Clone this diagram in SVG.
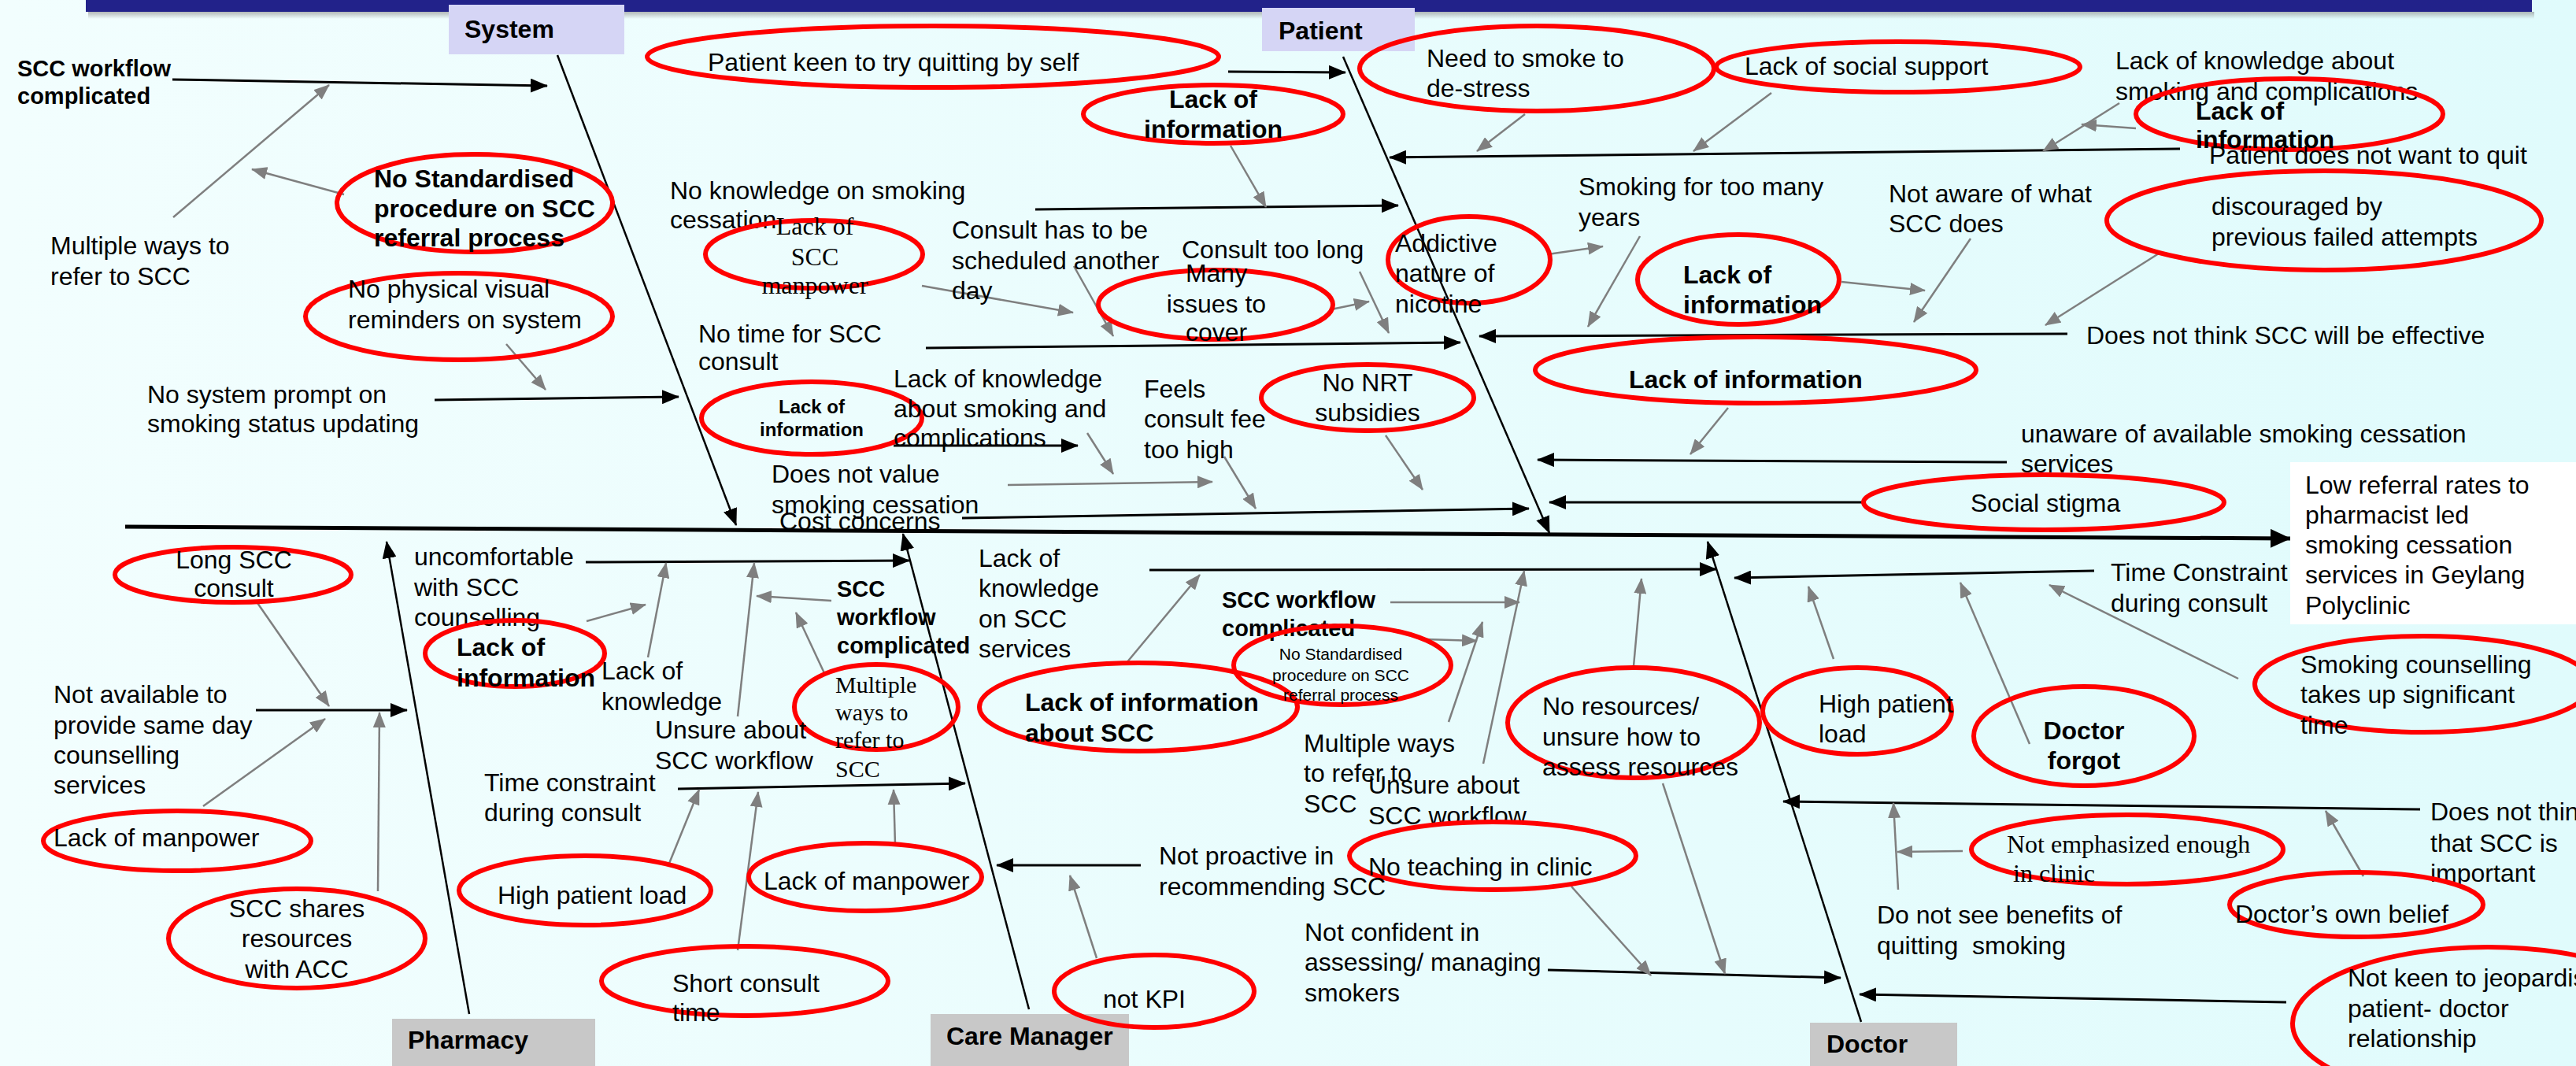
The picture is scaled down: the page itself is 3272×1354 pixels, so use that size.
<svg xmlns="http://www.w3.org/2000/svg" width="3272" height="1354" viewBox="0 0 3272 1354">
<defs>
<linearGradient id="bg" x1="0" y1="0" x2="1" y2="0">
<stop offset="0" stop-color="#f2fefe"/>
<stop offset="1" stop-color="#e0fbfc"/>
</linearGradient>
<linearGradient id="sh" x1="0" y1="0" x2="0" y2="1">
<stop offset="0" stop-color="#888" stop-opacity="0.6"/>
<stop offset="1" stop-color="#888" stop-opacity="0"/>
</linearGradient>
<marker id="ab" viewBox="0 0 22 18" refX="21" refY="9" markerWidth="22" markerHeight="18" markerUnits="userSpaceOnUse" orient="auto"><path d="M0,0 L22,9 L0,18 z" fill="#000"/></marker>
<marker id="abig" viewBox="0 0 26 24" refX="25" refY="12" markerWidth="26" markerHeight="24" markerUnits="userSpaceOnUse" orient="auto"><path d="M0,0 L26,12 L0,24 z" fill="#000"/></marker>
<marker id="ag" viewBox="0 0 20 16" refX="19" refY="8" markerWidth="20" markerHeight="16" markerUnits="userSpaceOnUse" orient="auto"><path d="M0,0 L20,8 L0,16 z" fill="#7f7f7f"/></marker>
</defs>
<style>
text{font-family:"Liberation Sans",Arial,sans-serif;font-size:32px;fill:#000}
.b{font-weight:bold}
.b29{font-weight:bold;font-size:29px}
.b24{font-weight:bold;font-size:24px}
.s21{font-size:21px}
.sf{font-family:"Liberation Serif","Times New Roman",serif}
.sf30{font-family:"Liberation Serif","Times New Roman",serif;font-size:30px}
.m{text-anchor:middle}
.el{fill:none;stroke:#ff0000;stroke-width:6}
.bl{stroke:#000;stroke-width:3;fill:none;marker-end:url(#ab)}
.bone{stroke:#000;stroke-width:2.5;fill:none;marker-end:url(#ab)}
.gl{stroke:#7f7f7f;stroke-width:2.5;fill:none;marker-end:url(#ag)}
.catA{fill:#d5d5f5}
.catB{fill:#c8c8c8}
</style>
<rect x="0" y="0" width="3272" height="1354" fill="url(#bg)"/>
<rect x="112" y="15" width="3107" height="9" fill="url(#sh)"/>
<rect x="109" y="-10" width="3107" height="25" fill="#22228a"/>

<g id="spine">
<line x1="159" y1="669" x2="2909" y2="684" stroke="#000" stroke-width="5" marker-end="url(#abig)"/>
</g>

<g id="effect">
<rect x="2909" y="587" width="363" height="206" fill="#ffffff"/>
<text><tspan x="2928" y="627">Low referral rates to</tspan><tspan x="2928" y="665">pharmacist led</tspan><tspan x="2928" y="703">smoking cessation</tspan><tspan x="2928" y="741">services in Geylang</tspan><tspan x="2928" y="780">Polyclinic</tspan></text>
</g>

<g id="cat-system"><rect class="catA" x="570" y="6" width="223" height="63"/><text class="b" x="590" y="48">System</text></g>
<g id="cat-patient"><rect class="catA" x="1603" y="10" width="194" height="55"/><text class="b" x="1624" y="50">Patient</text></g>
<g id="cat-pharmacy"><rect class="catB" x="498" y="1294" width="258" height="60"/><text class="b" x="518" y="1332">Pharmacy</text></g>
<g id="cat-caremanager"><rect class="catB" x="1182" y="1288" width="252" height="66"/><text class="b" x="1202" y="1327">Care Manager</text></g>
<g id="cat-doctor"><rect class="catB" x="2299" y="1299" width="187" height="55"/><text class="b" x="2320" y="1337">Doctor</text></g>

<g id="connectors">
<line class="bone" x1="708" y1="70" x2="935" y2="667"/>
<line class="bone" x1="1706" y1="72" x2="1968" y2="677"/>
<line class="bone" x1="596" y1="1288" x2="491" y2="688"/>
<line class="bone" x1="1307" y1="1282" x2="1147" y2="678"/>
<line class="bone" x1="2364" y1="1298" x2="2169" y2="688"/>

<line class="bl" x1="219" y1="101" x2="695" y2="109"/>
<line class="bl" x1="552" y1="508" x2="862" y2="504"/>
<line class="bl" x1="1315" y1="266" x2="1776" y2="261"/>
<line class="bl" x1="1176" y1="442" x2="1855" y2="435"/>
<line class="bl" x1="1135" y1="566" x2="1369" y2="566"/>
<line class="bl" x1="1222" y1="658" x2="1942" y2="646"/>
<line class="bl" x1="1560" y1="91" x2="1709" y2="92"/>
<line class="bl" x1="2769" y1="189" x2="1765" y2="200"/>
<line class="bl" x1="2626" y1="424" x2="1879" y2="427"/>
<line class="bl" x1="2549" y1="587" x2="1953" y2="584"/>
<line class="bl" x1="2367" y1="638" x2="1968" y2="638"/>
<line class="bl" x1="325" y1="902" x2="517" y2="902"/>
<line class="bl" x1="744" y1="714" x2="1155" y2="712"/>
<line class="bl" x1="861" y1="1002" x2="1226" y2="995"/>
<line class="bl" x1="1460" y1="724" x2="2180" y2="723"/>
<line class="bl" x1="1449" y1="1099" x2="1266" y2="1099"/>
<line class="bl" x1="1966" y1="1232" x2="2338" y2="1242"/>
<line class="bl" x1="2660" y1="725" x2="2203" y2="734"/>
<line class="bl" x1="3074" y1="1028" x2="2265" y2="1018"/>
<line class="bl" x1="2904" y1="1273" x2="2362" y2="1263"/>

<line class="gl" x1="220" y1="276" x2="418" y2="108"/>
<line class="gl" x1="437" y1="247" x2="320" y2="215"/>
<line class="gl" x1="643" y1="437" x2="693" y2="495"/>
<line class="gl" x1="1563" y1="185" x2="1608" y2="263"/>
<line class="gl" x1="1171" y1="363" x2="1363" y2="397"/>
<line class="gl" x1="1364" y1="338" x2="1414" y2="427"/>
<line class="gl" x1="1727" y1="345" x2="1764" y2="423"/>
<line class="gl" x1="1691" y1="393" x2="1739" y2="383"/>
<line class="gl" x1="1381" y1="550" x2="1414" y2="602"/>
<line class="gl" x1="1280" y1="616" x2="1540" y2="612"/>
<line class="gl" x1="1555" y1="580" x2="1595" y2="646"/>
<line class="gl" x1="1760" y1="553" x2="1807" y2="622"/>
<line class="gl" x1="1937" y1="145" x2="1876" y2="192"/>
<line class="gl" x1="2250" y1="118" x2="2151" y2="192"/>
<line class="gl" x1="2692" y1="131" x2="2595" y2="192"/>
<line class="gl" x1="2713" y1="163" x2="2644" y2="158"/>
<line class="gl" x1="2742" y1="322" x2="2598" y2="413"/>
<line class="gl" x1="1966" y1="323" x2="2036" y2="313"/>
<line class="gl" x1="2083" y1="300" x2="2017" y2="415"/>
<line class="gl" x1="2339" y1="358" x2="2445" y2="369"/>
<line class="gl" x1="2503" y1="303" x2="2431" y2="409"/>
<line class="gl" x1="2195" y1="518" x2="2147" y2="577"/>
<line class="gl" x1="325" y1="763" x2="418" y2="897"/>
<line class="gl" x1="258" y1="1024" x2="413" y2="913"/>
<line class="gl" x1="480" y1="1132" x2="482" y2="905"/>
<line class="gl" x1="745" y1="789" x2="820" y2="768"/>
<line class="gl" x1="823" y1="835" x2="846" y2="715"/>
<line class="gl" x1="937" y1="910" x2="958" y2="715"/>
<line class="gl" x1="1056" y1="763" x2="961" y2="757"/>
<line class="gl" x1="1048" y1="857" x2="1011" y2="778"/>
<line class="gl" x1="849" y1="1099" x2="888" y2="1003"/>
<line class="gl" x1="937" y1="1207" x2="963" y2="1006"/>
<line class="gl" x1="1137" y1="1073" x2="1135" y2="1003"/>
<line class="gl" x1="1430" y1="843" x2="1524" y2="730"/>
<line class="gl" x1="1766" y1="765" x2="1930" y2="765"/>
<line class="gl" x1="1811" y1="812" x2="1876" y2="814"/>
<line class="gl" x1="1840" y1="917" x2="1883" y2="790"/>
<line class="gl" x1="1884" y1="970" x2="1936" y2="725"/>
<line class="gl" x1="2075" y1="846" x2="2085" y2="735"/>
<line class="gl" x1="1393" y1="1217" x2="1359" y2="1112"/>
<line class="gl" x1="1996" y1="1126" x2="2097" y2="1239"/>
<line class="gl" x1="2112" y1="995" x2="2191" y2="1237"/>
<line class="gl" x1="2329" y1="837" x2="2297" y2="745"/>
<line class="gl" x1="2578" y1="945" x2="2490" y2="740"/>
<line class="gl" x1="2843" y1="862" x2="2603" y2="743"/>
<line class="gl" x1="3002" y1="1113" x2="2954" y2="1030"/>
<line class="gl" x1="2493" y1="1081" x2="2410" y2="1082"/>
<line class="gl" x1="2411" y1="1130" x2="2405" y2="1020"/>
</g>

<!-- System -->
<g id="n-scc-workflow-sys"><text class="b29"><tspan x="22" y="97">SCC workflow</tspan><tspan x="22" y="132">complicated</tspan></text></g>
<g id="n-multiple-ways-sys"><text><tspan x="64" y="323">Multiple ways to</tspan><tspan x="64" y="362">refer to SCC</tspan></text></g>
<g id="n-no-standardised-sys"><ellipse class="el" cx="603" cy="258" rx="175" ry="62"/><text class="b"><tspan x="475" y="238">No Standardised</tspan><tspan x="475" y="276">procedure on SCC</tspan><tspan x="475" y="313">referral process</tspan></text></g>
<g id="n-no-visual"><ellipse class="el" cx="583" cy="402" rx="195" ry="55"/><text><tspan x="442" y="378">No physical visual</tspan><tspan x="442" y="417">reminders on system</tspan></text></g>
<g id="n-no-prompt"><text><tspan x="187" y="512">No system prompt on</tspan><tspan x="187" y="549">smoking status updating</tspan></text></g>
<g id="n-no-knowledge"><text><tspan x="851" y="253">No knowledge on smoking</tspan><tspan x="851" y="290">cessation</tspan></text></g>
<g id="n-scc-manpower"><ellipse class="el" cx="1034" cy="323" rx="138" ry="43"/><text class="sf m"><tspan x="1035" y="298">Lack of</tspan><tspan x="1035" y="337">SCC</tspan><tspan x="1035" y="373">manpower</tspan></text></g>
<g id="n-scheduled"><text><tspan x="1209" y="303">Consult has to be</tspan><tspan x="1209" y="342">scheduled another</tspan><tspan x="1209" y="380">day</tspan></text></g>
<g id="n-too-long"><text x="1501" y="328">Consult too long</text></g>
<g id="n-many-issues"><ellipse class="el" cx="1544" cy="387" rx="149" ry="44"/><text class="m"><tspan x="1545" y="358">Many</tspan><tspan x="1545" y="397">issues to</tspan><tspan x="1545" y="433">cover</tspan></text></g>
<g id="n-no-time"><text><tspan x="887" y="435">No time for SCC</tspan><tspan x="887" y="470">consult</tspan></text></g>
<g id="n-lack-info-sys"><ellipse class="el" cx="1031" cy="531" rx="140" ry="46"/><text class="b24 m"><tspan x="1031" y="525">Lack of</tspan><tspan x="1031" y="554">information</tspan></text></g>
<g id="n-lack-knowledge-compl"><text><tspan x="1135" y="492">Lack of knowledge</tspan><tspan x="1135" y="530">about smoking and</tspan><tspan x="1135" y="567">complications</tspan></text></g>
<g id="n-not-value"><text><tspan x="980" y="613">Does not value</tspan><tspan x="980" y="652">smoking cessation</tspan></text></g>
<g id="n-fee"><text><tspan x="1453" y="505">Feels</tspan><tspan x="1453" y="543">consult fee</tspan><tspan x="1453" y="582">too high</tspan></text></g>
<g id="n-nrt"><ellipse class="el" cx="1737" cy="505" rx="135" ry="42"/><text class="m"><tspan x="1737" y="497">No NRT</tspan><tspan x="1737" y="535">subsidies</tspan></text></g>
<g id="n-cost"><text x="990" y="673">Cost concerns</text></g>

<!-- Patient -->
<g id="n-keen-self"><ellipse class="el" cx="1185" cy="72" rx="363" ry="39"/><text x="899" y="90">Patient keen to try quitting by self</text></g>
<g id="n-lack-info-p1"><ellipse class="el" cx="1541" cy="145" rx="165" ry="37"/><text class="b m"><tspan x="1541" y="137">Lack of</tspan><tspan x="1541" y="175">information</tspan></text></g>
<g id="n-destress"><ellipse class="el" cx="1952" cy="87" rx="225" ry="54"/><text><tspan x="1812" y="85">Need to smoke to</tspan><tspan x="1812" y="123">de-stress</tspan></text></g>
<g id="n-social-support"><ellipse class="el" cx="2411" cy="85" rx="231" ry="32"/><text x="2216" y="95">Lack of social support</text></g>
<g id="n-lack-knowledge-p"><text><tspan x="2687" y="88">Lack of knowledge about</tspan><tspan x="2687" y="127">smoking and complications</tspan></text></g>
<g id="n-lack-info-p2"><ellipse class="el" cx="2908" cy="145" rx="195" ry="45"/><text class="b"><tspan x="2789" y="152">Lack of</tspan><tspan x="2789" y="188">information</tspan></text></g>
<g id="n-not-want"><text x="2806" y="208">Patient does not want to quit</text></g>
<g id="n-discouraged"><ellipse class="el" cx="2952" cy="280" rx="276" ry="63"/><text><tspan x="2809" y="273">discouraged by</tspan><tspan x="2809" y="312">previous failed attempts</tspan></text></g>
<g id="n-not-effective"><text x="2650" y="437">Does not think SCC will be effective</text></g>
<g id="n-addictive"><ellipse class="el" cx="1866" cy="330" rx="103" ry="55"/><text><tspan x="1772" y="320">Addictive</tspan><tspan x="1772" y="358">nature of</tspan><tspan x="1772" y="397">nicotine</tspan></text></g>
<g id="n-many-years"><text><tspan x="2005" y="248">Smoking for too many</tspan><tspan x="2005" y="287">years</tspan></text></g>
<g id="n-lack-info-p3"><ellipse class="el" cx="2208" cy="355" rx="128" ry="57"/><text class="b"><tspan x="2138" y="360">Lack of</tspan><tspan x="2138" y="398">information</tspan></text></g>
<g id="n-not-aware"><text><tspan x="2399" y="257">Not aware of what</tspan><tspan x="2399" y="295">SCC does</tspan></text></g>
<g id="n-lack-info-p4"><ellipse class="el" cx="2230" cy="470" rx="280" ry="42"/><text class="b" x="2069" y="493">Lack of information</text></g>
<g id="n-unaware"><text><tspan x="2567" y="562">unaware of available smoking cessation</tspan><tspan x="2567" y="600">services</tspan></text></g>
<g id="n-stigma"><ellipse class="el" cx="2596" cy="638" rx="229" ry="35"/><text x="2503" y="650">Social stigma</text></g>

<!-- Pharmacy -->
<g id="n-long-consult"><ellipse class="el" cx="296" cy="730" rx="150" ry="35"/><text class="m"><tspan x="297" y="722">Long SCC</tspan><tspan x="297" y="758">consult</tspan></text></g>
<g id="n-not-available"><text><tspan x="68" y="893">Not available to</tspan><tspan x="68" y="932">provide same day</tspan><tspan x="68" y="970">counselling</tspan><tspan x="68" y="1008">services</tspan></text></g>
<g id="n-manpower-ph"><ellipse class="el" cx="225" cy="1068" rx="170" ry="38"/><text x="68" y="1075">Lack of manpower</text></g>
<g id="n-shares"><ellipse class="el" cx="377" cy="1192" rx="163" ry="63"/><text class="m"><tspan x="377" y="1165">SCC shares</tspan><tspan x="377" y="1203">resources</tspan><tspan x="377" y="1242">with ACC</tspan></text></g>
<g id="n-uncomfortable"><text><tspan x="526" y="718">uncomfortable</tspan><tspan x="526" y="757">with SCC</tspan><tspan x="526" y="795">counselling</tspan></text></g>
<g id="n-lack-info-ph"><ellipse class="el" cx="654" cy="830" rx="114" ry="42"/><text class="b"><tspan x="580" y="833">Lack of</tspan><tspan x="580" y="872">information</tspan></text></g>
<g id="n-lack-knowledge-ph"><text><tspan x="764" y="863">Lack of</tspan><tspan x="764" y="902">knowledge</tspan></text></g>
<g id="n-scc-workflow-ph"><text class="b29"><tspan x="1063" y="758">SCC</tspan><tspan x="1063" y="794">workflow</tspan><tspan x="1063" y="830">complicated</tspan></text></g>
<g id="n-multiple-ways-ph"><ellipse class="el" cx="1113" cy="898" rx="104" ry="54"/><text class="sf30"><tspan x="1061" y="880">Multiple</tspan><tspan x="1061" y="915">ways to</tspan><tspan x="1061" y="950">refer to</tspan><tspan x="1061" y="987">SCC</tspan></text></g>
<g id="n-unsure-ph"><text><tspan x="832" y="938">Unsure about</tspan><tspan x="832" y="977">SCC workflow</tspan></text></g>
<g id="n-time-ph"><text><tspan x="615" y="1005">Time constraint</tspan><tspan x="615" y="1043">during consult</tspan></text></g>
<g id="n-high-load-ph"><ellipse class="el" cx="743" cy="1131" rx="160" ry="44"/><text x="632" y="1148">High patient load</text></g>
<g id="n-manpower-cm"><ellipse class="el" cx="1099" cy="1114" rx="148" ry="43"/><text x="970" y="1130">Lack of manpower</text></g>
<g id="n-short-consult"><ellipse class="el" cx="946" cy="1246" rx="182" ry="44"/><text><tspan x="854" y="1260">Short consult</tspan><tspan x="854" y="1297">time</tspan></text></g>

<!-- Care Manager -->
<g id="n-lack-knowledge-cm"><text><tspan x="1243" y="720">Lack of</tspan><tspan x="1243" y="758">knowledge</tspan><tspan x="1243" y="797">on SCC</tspan><tspan x="1243" y="835">services</tspan></text></g>
<g id="n-lack-info-cm"><ellipse class="el" cx="1446" cy="898" rx="202" ry="56"/><text class="b"><tspan x="1302" y="903">Lack of information</tspan><tspan x="1302" y="942">about SCC</tspan></text></g>
<g id="n-scc-workflow-dr"><text class="b29"><tspan x="1552" y="772">SCC workflow</tspan><tspan x="1552" y="808">complicated</tspan></text></g>
<g id="n-no-standardised-dr"><ellipse class="el" cx="1705" cy="845" rx="138" ry="50"/><text class="s21 m"><tspan x="1703" y="838">No Standardised</tspan><tspan x="1703" y="865">procedure on SCC</tspan><tspan x="1703" y="890">referral process</tspan></text></g>
<g id="n-multiple-ways-dr"><text><tspan x="1656" y="955">Multiple ways</tspan><tspan x="1656" y="993">to refer to</tspan><tspan x="1656" y="1032">SCC</tspan></text></g>
<g id="n-unsure-dr"><text><tspan x="1738" y="1008">Unsure about</tspan><tspan x="1738" y="1047">SCC workflow</tspan></text></g>
<g id="n-no-resources"><ellipse class="el" cx="2075" cy="918" rx="160" ry="70"/><text><tspan x="1959" y="908">No resources/</tspan><tspan x="1959" y="947">unsure how to</tspan><tspan x="1959" y="985">assess resources</tspan></text></g>
<g id="n-no-teaching"><ellipse class="el" cx="1896" cy="1087" rx="182" ry="43"/><text x="1738" y="1112">No teaching in clinic</text></g>
<g id="n-not-proactive"><text><tspan x="1472" y="1098">Not proactive in</tspan><tspan x="1472" y="1137">recommending SCC</tspan></text></g>
<g id="n-not-kpi"><ellipse class="el" cx="1466" cy="1259" rx="127" ry="46"/><text x="1401" y="1280">not KPI</text></g>
<g id="n-not-confident"><text><tspan x="1657" y="1195">Not confident in</tspan><tspan x="1657" y="1233">assessing/ managing</tspan><tspan x="1657" y="1272">smokers</tspan></text></g>

<!-- Doctor -->
<g id="n-time-dr"><text><tspan x="2681" y="738">Time Constraint</tspan><tspan x="2681" y="777">during consult</tspan></text></g>
<g id="n-high-load-dr"><ellipse class="el" cx="2359" cy="903" rx="120" ry="55"/><text><tspan x="2310" y="905">High patient</tspan><tspan x="2310" y="943">load</tspan></text></g>
<g id="n-forgot"><ellipse class="el" cx="2647" cy="935" rx="140" ry="63"/><text class="b m"><tspan x="2647" y="939">Doctor</tspan><tspan x="2647" y="977">forgot</tspan></text></g>
<g id="n-counselling-time"><ellipse class="el" cx="3078" cy="869" rx="214" ry="61"/><text><tspan x="2922" y="855">Smoking counselling</tspan><tspan x="2922" y="893">takes up significant</tspan><tspan x="2922" y="932">time</tspan></text></g>
<g id="n-not-important"><text><tspan x="3087" y="1042">Does not think</tspan><tspan x="3087" y="1082">that SCC is</tspan><tspan x="3087" y="1120">important</tspan></text></g>
<g id="n-own-belief"><ellipse class="el" cx="2993" cy="1149" rx="161" ry="41"/><text x="2839" y="1172">Doctor’s own belief</text></g>
<g id="n-not-emphasized"><ellipse class="el" cx="2702" cy="1079" rx="198" ry="44"/><text class="sf"><tspan x="2549" y="1083">Not emphasized enough</tspan><tspan x="2557" y="1120">in clinic</tspan></text></g>
<g id="n-no-benefits"><text xml:space="preserve"><tspan x="2384" y="1173">Do not see benefits of</tspan><tspan x="2384" y="1212">quitting  smoking</tspan></text></g>
<g id="n-not-keen"><ellipse class="el" cx="3160" cy="1300" rx="248" ry="97"/><text><tspan x="2982" y="1253">Not keen to jeopardise</tspan><tspan x="2982" y="1292">patient- doctor</tspan><tspan x="2982" y="1330">relationship</tspan></text></g>
</svg>
